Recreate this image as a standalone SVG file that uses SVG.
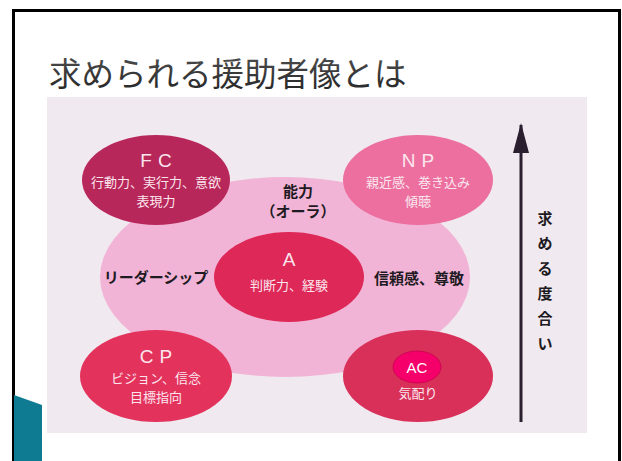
<svg xmlns="http://www.w3.org/2000/svg" width="622" height="461" viewBox="0 0 622 461">
<defs>
<style>
.ja{font-family:"Noto Sans CJK JP","Noto Sans",sans-serif;}
.wt{fill:#fbe6ee;text-anchor:middle;font-size:13px;}
.hd{fill:#fbe6ee;text-anchor:middle;font-size:19px;font-family:"Liberation Sans",Arial,sans-serif;letter-spacing:6px;}
.bk{fill:#1e1a22;font-weight:bold;text-anchor:middle;font-size:15px;}
</style>
<linearGradient id="tg" x1="0" y1="0" x2="0" y2="1">
<stop offset="0" stop-color="#555"/><stop offset="1" stop-color="#222"/>
</linearGradient>
<marker id="ah" viewBox="0 0 30 16" refX="28" refY="8" markerWidth="30" markerHeight="16" markerUnits="userSpaceOnUse" orient="auto">
<path d="M30 8 L0 0 L0 16 Z" fill="#2a1f2e"/>
</marker>
</defs>
<rect width="622" height="461" fill="#ffffff"/>
<path d="M13.5 461 V10.5 H619.5 V461" fill="none" stroke="#000" stroke-width="3"/>
<text x="49" y="86" class="ja" font-size="32.5" fill="url(#tg)">求められる援助者像とは</text>
<polygon points="14,395 42,405 42,461 14,461" fill="#0f7b93"/>
<rect x="47" y="97" width="540" height="336" fill="#f1e9f0"/>
<g id="aura"><ellipse cx="285" cy="277" rx="185" ry="100" fill="#f2b4d6"/>
<text class="ja bk" x="298" y="197">能力</text>
<text class="ja bk" x="298" y="217">（オーラ）</text>
</g>
<g id="leadership"><text class="ja bk" x="156" y="283" font-size="16">リーダーシップ</text></g>
<g id="trust"><text class="ja bk" x="419" y="284" font-size="16">信頼感、尊敬</text></g>
<g id="FC"><ellipse cx="156" cy="180" rx="74" ry="45" fill="#b8275a"/>
<text class="hd" x="159" y="167">FC</text>
<text class="ja wt" x="156" y="187">行動力、実行力、意欲</text>
<text class="ja wt" x="156" y="206">表現力</text>
</g>
<g id="NP"><ellipse cx="418" cy="180" rx="75" ry="45" fill="#ec6f9f"/>
<text class="hd" x="421" y="167">NP</text>
<text class="ja wt" x="418" y="187">親近感、巻き込み</text>
<text class="ja wt" x="418" y="206">傾聴</text>
</g>
<g id="A"><ellipse cx="289" cy="277" rx="75" ry="45" fill="#de2857"/>
<text class="hd" x="289" y="266" style="letter-spacing:0">A</text>
<text class="ja wt" x="289" y="290">判断力、経験</text>
</g>
<g id="CP"><ellipse cx="156" cy="376" rx="76" ry="46" fill="#e3335d"/>
<text class="hd" x="159" y="363">CP</text>
<text class="ja wt" x="156" y="383">ビジョン、信念</text>
<text class="ja wt" x="156" y="402">目標指向</text>
</g>
<g id="AC"><ellipse cx="418" cy="376" rx="75" ry="46" fill="#d93059"/>
<ellipse cx="417" cy="367" rx="24" ry="16" fill="#f5006a" stroke="#c8004f" stroke-width="0.8"/>
<text x="417" y="373" fill="#ffffff" text-anchor="middle" font-size="15" font-family="Liberation Sans,Arial,sans-serif">AC</text>
<text class="ja wt" x="418" y="398">気配り</text>
</g>
<g id="connectors"><line x1="521" y1="422" x2="521" y2="125" stroke="#2a1f2e" stroke-width="3" marker-end="url(#ah)"/></g>
<g id="degree" class="ja" font-size="15" font-weight="600" fill="#1e1a22" text-anchor="middle">
<text x="545" y="224">求</text>
<text x="545" y="249">め</text>
<text x="545" y="274">る</text>
<text x="545" y="299">度</text>
<text x="545" y="324">合</text>
<text x="545" y="349">い</text>
</g>
</svg>
